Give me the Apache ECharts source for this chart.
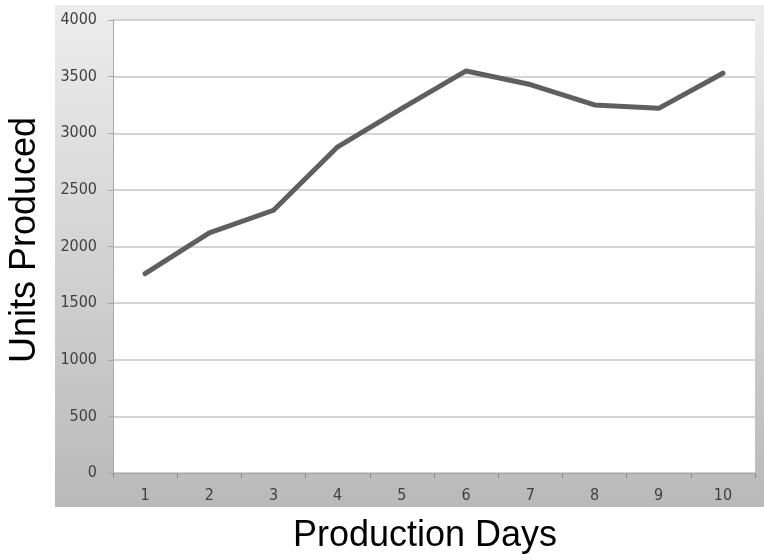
<!DOCTYPE html>
<html><head><meta charset="utf-8">
<script src="https://cdn.jsdelivr.net/npm/echarts@6/dist/echarts.min.js"></script>
<style>html,body{margin:0;padding:0;background:#fff}#c{width:764px;height:560px}</style>
</head><body><div id="c"></div>
<script>
const days = ['1','2','3','4','5','6','7','8','9','10'];
const units = [1760, 2120, 2320, 2880, 3220, 3550, 3430, 3250, 3220, 3530];
const yTicks = [0, 500, 1000, 1500, 2000, 2500, 3000, 3500, 4000];

const chart = echarts.init(document.getElementById('c'));
chart.setOption({
  animation: false,
  graphic: [
    { type: 'rect', z: -10, shape: { x: 55, y: 5, width: 709, height: 502 },
      style: { fill: new echarts.graphic.LinearGradient(0, 0, 0, 1, [
        { offset: 0, color: '#ededed' }, { offset: 1, color: '#b9b9b9' }]) } },
    { type: 'text', x: 425, y: 536,
      style: { text: 'Production Days', font: '36px "Liberation Sans", Arial, sans-serif', fill: '#000',
        align: 'center', verticalAlign: 'middle' } },
    { type: 'text', x: 25, y: 240, rotation: Math.PI / 2,
      style: { text: 'Units Produced', font: '36px "Liberation Sans", Arial, sans-serif', fill: '#000',
        align: 'center', verticalAlign: 'middle' } }
  ],
  grid: { left: 113, right: 9, top: 20, bottom: 87, show: true, backgroundColor: '#ffffff', borderWidth: 0 },
  xAxis: {
    type: 'category', data: days, boundaryGap: true,
    axisLine: { lineStyle: { color: '#a8a8a8', width: 1 } },
    axisTick: { show: true, length: 5, lineStyle: { color: '#8a8a8a' } },
    axisLabel: { color: '#404040', fontSize: 16, margin: 15, fontFamily: 'DejaVu Sans Condensed' }
  },
  yAxis: {
    type: 'value', min: 0, max: 4000, interval: 500,
    axisLine: { show: true, lineStyle: { color: '#a8a8a8', width: 1 } },
    axisTick: { show: true, length: 5, lineStyle: { color: '#a8a8a8' } },
    splitLine: { lineStyle: { color: '#c4c4c4', width: 1.5 } },
    axisLabel: { color: '#404040', fontSize: 16, margin: 16, fontFamily: 'DejaVu Sans Condensed',
      formatter: v => yTicks.includes(v) ? String(v) : '' }
  },
  series: [{
    type: 'line', data: units, showSymbol: false, symbol: 'none',
    lineStyle: { color: '#5f5f5f', width: 5, join: 'round', cap: 'round' }
  }]
});
</script></body></html>
